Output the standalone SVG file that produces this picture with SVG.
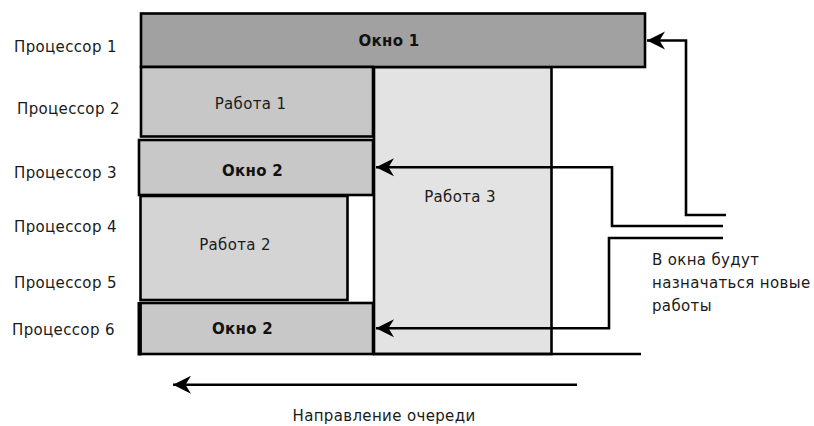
<svg xmlns="http://www.w3.org/2000/svg" width="814" height="426" viewBox="0 0 814 426">
  <style>
    .box { stroke: #000; stroke-width: 2.6; }
    .label { font-family: "DejaVu Sans", Verdana, sans-serif; font-size: 15px; letter-spacing: 0.35px; fill: #1a1a1a; }
    .title { font-family: "DejaVu Sans", Verdana, sans-serif; font-size: 15px; font-weight: bold; letter-spacing: 0.3px; fill: #111; text-anchor: middle; }
    .mid { text-anchor: middle; }
    .wire { fill: none; stroke: #000; stroke-width: 2.6; }
  </style>
  <defs>
    <marker id="head" markerUnits="userSpaceOnUse" markerWidth="22" markerHeight="22" viewBox="0 -11 22 22" refX="18" refY="0" orient="auto">
      <path d="M18,0 L0,-9 L5.5,0 L0,9 Z" fill="#000"/>
    </marker>
  </defs>

  <rect width="814" height="426" fill="#fff"/>

  <!-- processor row labels -->
  <g id="processors">
    <text class="label" x="14" y="51.5">Процессор 1</text>
    <text class="label" x="17" y="114">Процессор 2</text>
    <text class="label" x="14" y="178">Процессор 3</text>
    <text class="label" x="14" y="232">Процессор 4</text>
    <text class="label" x="14" y="287.5">Процессор 5</text>
    <text class="label" x="12" y="334.5">Процессор 6</text>
  </g>

  <!-- job 3 spans processors 2-6 -->
  <g id="job3">
    <rect class="box" x="374" y="67" width="177.5" height="287" fill="#e3e3e3" stroke-width="2.2"/>
    <text class="label mid" x="460" y="202">Работа 3</text>
  </g>

  <g id="window1">
    <rect class="box" x="141" y="13.5" width="504" height="53.5" fill="#a1a1a1" stroke-width="3"/>
    <text class="title" x="389" y="46">Окно 1</text>
  </g>

  <g id="job1">
    <rect class="box" x="141" y="67" width="232" height="69.5" fill="#c7c7c7"/>
    <text class="label mid" x="250.5" y="108.5">Работа 1</text>
  </g>

  <g id="window2a">
    <rect class="box" x="139" y="140" width="234" height="55" fill="#c8c8c8"/>
    <text class="title" x="252.5" y="176">Окно 2</text>
  </g>

  <g id="job2">
    <rect class="box" x="140.5" y="196" width="207" height="104" fill="#d4d4d4"/>
    <text class="label mid" x="235" y="250">Работа 2</text>
  </g>

  <g id="window2b">
    <rect class="box" x="140.5" y="303" width="232.5" height="51" fill="#c8c8c8"/>
    <line x1="139.5" y1="302" x2="139.5" y2="355.5" stroke="#000" stroke-width="4"/>
    <text class="title" x="242.5" y="333.5">Окно 2</text>
  </g>

  <g id="note">
    <text class="label" x="652" y="265">В окна будут</text>
    <text class="label" x="652" y="288">назначаться новые</text>
    <text class="label" x="652" y="310.5">работы</text>
  </g>

  <g id="queue-label">
    <text class="label mid" x="384" y="420.5">Направление очереди</text>
  </g>

  <!-- connectors -->
  <g id="connectors">
    <line class="wire" x1="373" y1="354" x2="641" y2="354"/>
    <polyline class="wire" points="726,215 686,215 686,40.5 647,40.5" marker-end="url(#head)"/>
    <polyline class="wire" points="723,226 612,226 612,167.3 376,167.3" marker-end="url(#head)"/>
    <polyline class="wire" points="723,238 609,238 609,328.3 376,328.3" marker-end="url(#head)"/>
    <line class="wire" x1="577" y1="384.7" x2="173" y2="384.7" marker-end="url(#head)"/>
  </g>
</svg>
